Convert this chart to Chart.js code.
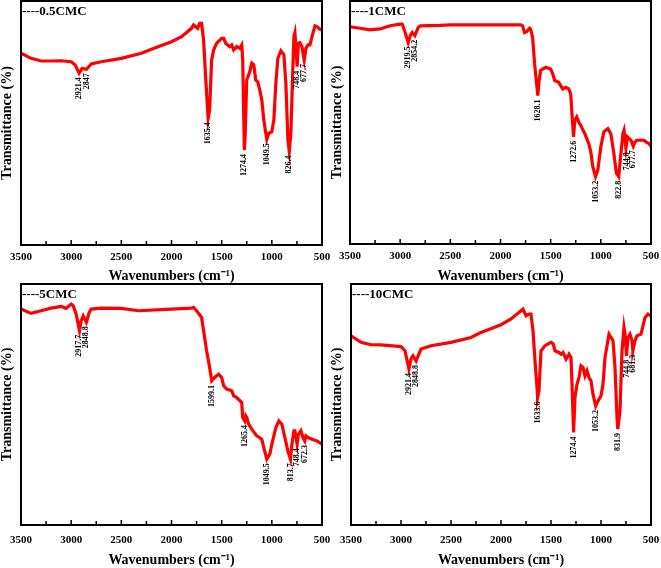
<!DOCTYPE html>
<html lang="en">
<head>
<meta charset="UTF-8">
<title>FTIR spectra</title>
<script src="https://cdn.jsdelivr.net/npm/chart.js"></script>
<style>
    body { margin: 0; background: #fff; }
    #wrap { position: relative; width: 661px; height: 568px; overflow: hidden; }
    canvas { position: absolute; }
</style>
</head>
<body>
<div id="wrap">
    <canvas id="c1" width="330" height="284" style="left:0;top:0"></canvas>
    <canvas id="c2" width="330" height="284" style="left:330px;top:0"></canvas>
    <canvas id="c3" width="330" height="286" style="left:0;top:282px"></canvas>
    <canvas id="c4" width="330" height="286" style="left:330px;top:282px"></canvas>
</div>
<script>
// x axis ticks (wavenumbers, cm-1)
const xTicks = [3500, 3000, 2500, 2000, 1500, 1000, 500];
const xMinor = [3250, 2750, 2250, 1750, 1250, 750];

// 0.5CMC
const wn05 = [3500,3400,3300,3200,3100,3000,2960,2921,2890,2847,2800,2700,2500,2300,2200,2000,1900,1800,1780,1740,1720,1700,1680,1660,1640,1635,1620,1600,1580,1550,1500,1480,1460,1420,1400,1380,1350,1320,1300,1290,1280,1274,1265,1250,1220,1200,1180,1160,1140,1120,1100,1080,1060,1050,1030,1000,980,960,940,910,880,860,840,826,810,790,780,770,760,748,735,720,700,677,660,640,620,600,570,550,520,500];
const t05 = [78.6,76.5,75.4,75.4,75.5,75.1,73.8,70.4,72.4,72.0,74.2,75.1,76.5,78.6,80.2,83.3,85.4,88.8,90.2,88.8,90.8,90.8,84.0,69.0,55.3,51.9,55.3,75.8,79.9,82.7,84.7,84.7,82.7,81.3,82.0,79.9,81.3,80.6,82.0,75.8,52.6,38.9,45.8,67.6,71.0,74.5,73.8,67.6,66.9,63.5,59.4,51.2,45.8,43.3,45.8,46.4,51.2,66.3,76.5,79.6,77.9,66.3,43.0,38.3,45.8,73.1,85.4,87.0,81.3,73.1,82.7,82.9,81.3,75.8,80.6,82.0,82.0,85.4,89.8,89.5,88.4,88.1];
const peaks05 = ['2921.4','2847','1635.4','1274.4','1049.5','826.4','748.4','677.7'];

// 1CMC
const wn1 = [3500,3400,3300,3200,3100,3000,2980,2950,2920,2900,2880,2854,2820,2800,2600,2500,2000,1800,1780,1760,1740,1710,1700,1680,1660,1640,1628,1615,1600,1580,1550,1500,1480,1460,1420,1400,1380,1350,1320,1300,1290,1272,1260,1240,1220,1200,1160,1120,1100,1080,1053,1030,1000,970,930,900,870,845,822,800,780,769,750,735,720,700,677,660,640,620,600,570,550,520,500];
const t1 = [89.4,88.8,88.1,88.5,89.8,90.5,90.5,87.0,82.9,85.7,87.0,85.7,89.1,89.8,90.0,90.2,90.2,90.2,89.8,87.0,87.4,88.8,88.4,85.0,74.1,65.9,61.1,67.3,71.4,72.0,72.7,72.0,70.0,67.3,66.6,65.2,63.8,64.5,63.8,61.8,55.0,44.1,50.9,52.3,50.2,48.8,45.4,41.3,37.9,31.8,27.7,30.4,40.0,46.1,47.5,45.4,37.2,29.1,27.7,37.2,45.4,46.8,39.4,44.1,43.5,42.7,40.2,42.0,42.7,42.7,42.7,42.7,42.0,41.3,40.2];
const peaks1 = ['2919.5','2854.2','1628.1','1272.6','1053.2','822.8','744.8','677.7'];

// 5CMC
const wn5 = [3500,3400,3300,3200,3100,3050,3000,2980,2950,2917,2900,2880,2849,2820,2800,2700,2500,2330,2000,1800,1780,1750,1700,1680,1650,1620,1599,1570,1530,1500,1480,1450,1400,1380,1350,1300,1290,1270,1260,1250,1230,1200,1150,1100,1080,1050,1020,1000,960,930,900,870,840,814,800,780,770,748,735,710,690,672,660,640,600,550,500];
const t5 = [89.6,87.8,88.9,90.0,90.7,89.9,91.7,91.0,87.5,80.6,84.8,86.8,84.1,88.2,89.6,90.0,89.9,88.9,89.6,90.0,90.3,88.9,86.1,80.6,72.3,65.4,59.8,61.2,62.6,61.2,57.8,56.4,55.7,53.6,52.9,50.8,44.6,43.2,45.3,44.6,41.8,39.8,37.0,35.6,32.1,27.3,29.4,33.5,40.4,43.2,41.8,36.3,30.7,27.3,33.5,39.1,39.1,33.5,37.7,39.1,36.3,34.9,37.0,36.3,35.6,34.9,33.5];
const peaks5 = ['2917.7','2848.8','1599.1','1265.4','1049.5','813.7','748.4','672.3'];

// 10CMC
const wn10 = [3500,3400,3300,3200,3000,2960,2921,2900,2880,2849,2800,2700,2500,2300,2200,2000,1900,1800,1780,1750,1720,1700,1680,1660,1640,1634,1620,1600,1560,1500,1480,1460,1420,1400,1380,1350,1320,1300,1290,1274,1260,1240,1220,1200,1180,1160,1140,1120,1100,1080,1053,1030,1000,980,960,920,880,860,840,832,810,790,770,760,745,730,710,690,681,660,640,600,560,530,500];
const t10 = [78.5,75.8,74.8,74.7,74.0,72.3,64.7,68.8,70.2,68.1,73.0,74.4,75.8,77.8,79.9,83.1,85.5,88.9,89.6,86.8,87.5,87.5,80.6,68.1,57.1,52.9,55.7,72.3,74.4,75.8,75.3,72.3,71.6,70.9,71.6,68.8,70.9,69.5,58.4,38.4,52.9,58.4,61.2,66.1,65.4,61.9,64.0,61.2,59.8,54.3,49.4,51.5,53.6,58.4,69.5,79.2,76.5,65.4,44.6,39.8,47.4,72.3,82.0,79.2,70.2,77.8,79.2,76.5,72.3,76.5,78.5,79.2,86.1,87.5,86.8];
const peaks10 = ['2921.4','2848.8','1633.6','1274.4','1053.2','831.9','744.8','681.3'];

const panels = [
    { id: 'c1', title: '----0.5CMC', wn: wn05, t: t05, peaks: peaks05, pad: { left: 0, right: 8, top: 1, bottom: 0 }, yW: 21, xH: 39, tickPad: 6 },
    { id: 'c2', title: '----1CMC',   wn: wn1,  t: t1,  peaks: peaks1,  pad: { left: 0, right: 9, top: 1, bottom: 0 }, yW: 20, xH: 40, tickPad: 6 },
    { id: 'c3', title: '----5CMC',   wn: wn5,  t: t5,  peaks: peaks5,  pad: { left: 0, right: 8, top: 2, bottom: 0 }, yW: 21, xH: 43, tickPad: 9 },
    { id: 'c4', title: '----10CMC',  wn: wn10, t: t10, peaks: peaks10, pad: { left: 0, right: 9, top: 2, bottom: 0 }, yW: 21, xH: 43, tickPad: 9 }
];

const SERIF = '"Liberation Serif", "Times New Roman", serif';

// frame, inward ticks, panel name and peak labels
const decor = {
    id: 'decor',
    afterDatasetsDraw(chart, args, opts) {
        const { ctx, chartArea: a, scales: { x, y } } = chart;
        ctx.save();
        ctx.strokeStyle = '#000';
        ctx.lineWidth = 2;
        ctx.strokeRect(a.left, a.top, a.right - a.left, a.bottom - a.top);

        ctx.lineWidth = 1.5;
        ctx.beginPath();
        xTicks.forEach(v => {
            const px = x.getPixelForValue(v);
            ctx.moveTo(px, a.bottom);
            ctx.lineTo(px, a.bottom - 5);
        });
        xMinor.forEach(v => {
            const px = x.getPixelForValue(v);
            ctx.moveTo(px, a.bottom);
            ctx.lineTo(px, a.bottom - 4);
        });
        ctx.stroke();

        ctx.fillStyle = '#000';
        ctx.font = 'bold 13px ' + SERIF;
        ctx.textAlign = 'left';
        ctx.textBaseline = 'alphabetic';
        ctx.fillText(opts.title, a.left + 1, a.top + 14);

        // peak labels, rotated, hanging below each band minimum
        ctx.font = 'bold 8px ' + SERIF;
        ctx.textAlign = 'right';
        ctx.textBaseline = 'middle';
        opts.peaks.forEach(label => {
            const v = parseFloat(label);
            let k = 0;
            opts.wn.forEach((w, i) => { if (Math.abs(w - v) < Math.abs(opts.wn[k] - v)) k = i; });
            const px = x.getPixelForValue(v);
            const py = y.getPixelForValue(opts.t[k]) + 4;
            ctx.save();
            ctx.translate(px, py);
            ctx.rotate(-Math.PI / 2);
            ctx.fillText(label, 0, 0);
            ctx.restore();
        });
        ctx.restore();
    }
};

panels.forEach(p => {
    new Chart(document.getElementById(p.id), {
        type: 'line',
        data: {
            datasets: [{
                data: p.wn.map((w, i) => ({ x: w, y: p.t[i] })),
                borderColor: '#ff0000',
                borderWidth: 3.2,
                pointRadius: 0,
                tension: 0,
                fill: false
            }]
        },
        options: {
            responsive: false,
            animation: false,
            layout: { padding: p.pad },
            scales: {
                x: {
                    type: 'linear',
                    reverse: true,
                    min: 500,
                    max: 3500,
                    grid: { display: false, drawTicks: false },
                    border: { display: false },
                    afterBuildTicks: s => { s.ticks = xTicks.map(v => ({ value: v })); },
                    afterFit: s => { s.height = p.xH; s.paddingLeft = 0; s.paddingRight = 0; },
                    ticks: {
                        maxRotation: 0,
                        autoSkip: false,
                        padding: p.tickPad,
                        color: '#000',
                        callback: v => String(v),
                        font: { family: SERIF, size: 11, weight: 'bold' }
                    },
                    title: {
                        display: true,
                        text: 'Wavenumbers (cm\u207B\u00B9)',
                        color: '#000',
                        padding: { top: 0, bottom: 1 },
                        font: { family: SERIF, size: 14, weight: 'bold', lineHeight: 1 }
                    }
                },
                y: {
                    min: 0,
                    max: 100,
                    grid: { display: false, drawTicks: false },
                    border: { display: false },
                    ticks: { display: false },
                    afterFit: s => { s.width = p.yW; s.paddingTop = 0; s.paddingBottom = 0; },
                    title: {
                        display: true,
                        text: 'Transmittance (%)',
                        color: '#000',
                        padding: 0,
                        font: { family: SERIF, size: 14, weight: 'bold', lineHeight: 1.05 }
                    }
                }
            },
            plugins: {
                legend: { display: false },
                tooltip: { enabled: false },
                decor: { title: p.title, peaks: p.peaks, wn: p.wn, t: p.t }
            }
        },
        plugins: [decor]
    });
});
</script>
</body>
</html>
